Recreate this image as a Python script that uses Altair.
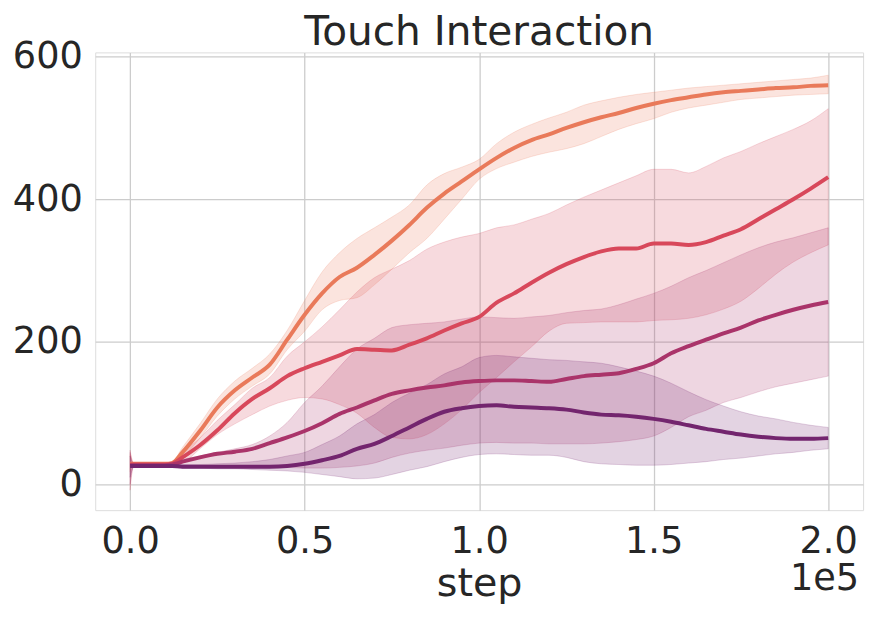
import altair as alt
import pandas as pd

# x positions (environment steps)
STEPS = [0, 1000, 5000, 10000, 12000, 15000, 20000, 25000, 30000, 35000, 40000, 45000,
         50000, 55000, 60000, 65000, 70000, 75000, 80000, 85000, 90000, 95000, 100000,
         105000, 110000, 115000, 120000, 125000, 130000, 135000, 140000, 145000, 150000,
         155000, 160000, 165000, 170000, 175000, 180000, 185000, 190000, 195000, 200000]

SERIES = ["s1", "s2", "s3", "s4"]
COLORS = ["#e97a5a", "#d8485b", "#aa346a", "#73256e"]

S1_MEAN = [29, 29, 29, 29, 30, 45, 75, 108, 132, 150, 168, 203, 238, 268, 291, 304, 322, 342, 364, 388, 408, 425,
           442, 458, 472, 483, 491, 500, 508, 515, 521, 528, 534, 539, 543, 547, 550, 552, 554, 556, 557, 559, 560]
S1_LO = [18, 27, 27, 27, 28, 38, 65, 96, 120, 138, 155, 189, 215, 245, 258, 262, 280, 302, 325, 345, 372, 400,
         428, 443, 452, 460, 466, 471, 478, 488, 498, 506, 513, 522, 528, 532, 536, 540, 542, 544, 546, 547, 548]
S1_HI = [42, 31, 31, 31, 32, 52, 85, 120, 145, 163, 183, 216, 258, 298, 325, 345, 360, 375, 392, 420, 436, 445,
         456, 478, 494, 505, 514, 522, 532, 538, 543, 547, 550, 553, 556, 558, 560, 562, 564, 566, 568, 570, 574]

S2_MEAN = [28, 28, 28, 28, 29, 38, 55, 76, 100, 120, 135, 152, 163, 172, 181, 190, 189, 188, 196, 205, 216, 226,
           235, 255, 268, 283, 297, 309, 319, 327, 331, 331, 338, 338, 336, 340, 349, 358, 372, 386, 400, 415, 431]
S2_LO = [-8, 26, 26, 26, 27, 30, 50, 70, 85, 98, 110, 118, 122, 120, 112, 100, 80, 66, 64, 70, 85, 105,
         129, 150, 172, 193, 215, 226, 227, 228, 228, 228, 230, 231, 233, 238, 246, 257, 275, 295, 312, 325, 336]
S2_HI = [48, 30, 30, 30, 31, 45, 65, 90, 112, 135, 150, 180, 200, 221, 245, 270, 290, 302, 314, 330, 340, 347,
         352, 360, 364, 372, 380, 392, 403, 413, 423, 433, 442, 442, 437, 446, 458, 467, 478, 488, 498, 510, 527]

S3_MEAN = [27, 27, 27, 27, 28, 32, 38, 43, 46, 50, 58, 66, 75, 86, 99, 108, 118, 127, 132, 136, 139, 143,
           145, 146, 146, 145, 144, 148, 152, 154, 156, 162, 170, 184, 194, 203, 212, 220, 230, 238, 245, 251, 256]
S3_LO = [0, 25, 25, 25, 26, 26, 26, 26, 26, 25, 24, 24, 23, 23, 24, 26, 30, 38, 44, 48, 51, 55,
         58, 59, 58, 58, 57, 57, 57, 58, 60, 63, 68, 80, 95, 104, 115, 122, 130, 137, 142, 147, 152]
S3_HI = [45, 29, 29, 29, 30, 35, 40, 45, 50, 56, 68, 87, 115, 138, 165, 190, 205, 220, 224, 226, 228, 232,
         235, 234, 233, 235, 237, 241, 244, 246, 252, 260, 268, 278, 290, 300, 311, 322, 332, 340, 346, 353, 360]

S4_MEAN = [26, 26, 26, 26, 26, 25, 25, 25, 25, 25, 25, 26, 29, 34, 40, 50, 57, 68, 80, 92, 102, 107,
           110, 111, 109, 108, 107, 105, 101, 98, 97, 95, 92, 88, 83, 78, 74, 70, 67, 65, 64, 64, 65]
S4_LO = [10, 24, 24, 24, 24, 23, 23, 22, 22, 21, 20, 19, 17, 14, 11, 8, 9, 14, 20, 25, 32, 38,
         42, 43, 42, 41, 41, 38, 32, 29, 28, 27, 27, 28, 30, 32, 35, 37, 40, 43, 45, 48, 50]
S4_HI = [40, 28, 28, 28, 28, 28, 28, 29, 30, 32, 35, 40, 45, 56, 68, 85, 98, 115, 128, 140, 155, 165,
         178, 181, 179, 177, 175, 174, 172, 170, 165, 159, 152, 142, 130, 119, 110, 102, 96, 92, 87, 83, 80]

X_TICKS = [0, 50000, 100000, 150000, 200000]
Y_TICKS = [0, 200, 400, 600]
TITLE = "Touch Interaction"
X_TITLE = "step"
OFFSET_TEXT = "1e5"

rows = []
for name, m, lo, hi in zip(SERIES, [S1_MEAN, S2_MEAN, S3_MEAN, S4_MEAN],
                           [S1_LO, S2_LO, S3_LO, S4_LO], [S1_HI, S2_HI, S3_HI, S4_HI]):
    for s, a, b, c in zip(STEPS, m, lo, hi):
        rows.append({"step": s, "series": name, "mean": a, "lo": b, "hi": c})
df = pd.DataFrame(rows)

W, H = 775, 462
FONT = "DejaVu Sans"
TXT = "#262626"
GRID = "#cccccc"

xscale = alt.Scale(domain=[-10000, 210000], nice=False, zero=False)
yscale = alt.Scale(domain=[-36, 606], nice=False, zero=False)
cscale = alt.Scale(domain=SERIES, range=COLORS)
color = alt.Color("series:N", scale=cscale, legend=None)

xaxis = alt.Axis(values=X_TICKS, labelExpr="format(datum.value / 100000, '.1f')",
                 title=X_TITLE, titleFontSize=40, titleFontWeight="normal", titleColor=TXT,
                 titleFont=FONT, titlePadding=4,
                 labelFontSize=37, labelFont=FONT, labelColor=TXT, labelPadding=14,
                 ticks=False, domain=False, grid=True, gridColor=GRID, gridWidth=1.3)
yaxis = alt.Axis(values=Y_TICKS, title=None,
                 labelFontSize=37, labelFont=FONT, labelColor=TXT, labelPadding=13,
                 ticks=False, domain=False, grid=True, gridColor=GRID, gridWidth=1.3)

base = alt.Chart(df)

bands = base.mark_area(fillOpacity=0.2, strokeOpacity=0.2, strokeWidth=1,
                       interpolate="monotone").encode(
    x=alt.X("step:Q", scale=xscale, axis=xaxis),
    y=alt.Y("lo:Q", scale=yscale, axis=yaxis),
    y2="hi:Q",
    color=color,
    stroke=alt.Stroke("series:N", scale=cscale, legend=None),
    detail="series:N",
)

lines = base.mark_line(strokeWidth=4, interpolate="monotone").encode(
    x=alt.X("step:Q", scale=xscale),
    y=alt.Y("mean:Q", scale=yscale),
    color=color,
)

texts = pd.DataFrame({"t": [OFFSET_TEXT]})
offset_label = alt.Chart(texts).mark_text(
    font=FONT, fontSize=37, color=TXT, align="right", baseline="alphabetic"
).encode(
    text="t:N",
    x=alt.value(W - 4),
    y=alt.value(H + 81),
)

title_df = pd.DataFrame({"t": [TITLE]})
title_mark = alt.Chart(title_df).mark_text(
    font=FONT, fontSize=41, color=TXT, align="center", baseline="alphabetic"
).encode(
    text="t:N",
    x=alt.value(W / 2),
    y=alt.value(-7),
)

chart = alt.layer(bands, lines, offset_label, title_mark).properties(
    width=W, height=H,
    autosize=alt.AutoSizeParams(type="none"),
    padding={"left": 88, "top": 42, "right": 10, "bottom": 100},
).configure_view(
    stroke=GRID, strokeWidth=1.5
).configure(background="white")

chart.save("out.html", embed_options={"renderer": "svg", "actions": False})
